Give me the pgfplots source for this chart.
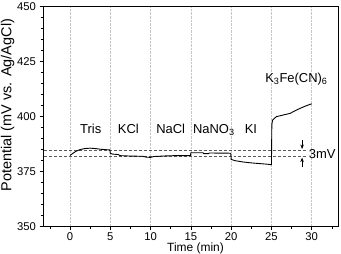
\documentclass[border=0pt]{standalone}
\usepackage{pgfplots}
\pgfplotsset{compat=1.18}
\usepackage{fontspec}
\setmainfont{Liberation Sans}
\usetikzlibrary{arrows.meta}

\begin{document}
\begin{tikzpicture}
\begin{axis}[
  scale only axis,
  width=295bp, height=220bp,
  xmin=-3.35, xmax=33.26,
  ymin=350, ymax=450,
  xtick={0,5,...,30},
  minor xtick={-2.5,2.5,7.5,12.5,17.5,22.5,27.5,32.5},
  ytick={350,375,...,450},
  minor ytick={355,360,365,370,380,385,390,395,405,410,415,420,430,435,440,445},
  xtick pos=bottom, ytick pos=left,
  tick align=outside,
  major tick length=3.5bp, minor tick length=2.5bp,
  tick style={black, line width=0.6pt},
  axis line style={line width=0.7pt},
  xmajorgrids,
  grid style={densely dotted, gray!45, line width=0.5pt},
  /pgf/number format/assume math mode=true,
  ticklabel style={font=\fontsize{11.3}{13}\selectfont},
  xticklabel style={inner sep=1bp, yshift=-1bp},
  clip=false,
]
% reference band (3 mV)
\addplot[gray!70!black, densely dashed, line width=0.5pt] coordinates {(-3.2,384.9) (29.5,384.9)};
\addplot[gray!70!black, densely dashed, line width=0.5pt] coordinates {(-3.2,381.8) (29.5,381.8)};

% potential trace
\addplot[black, line width=0.9pt] coordinates {
(0,382.4) (0.3,383.2) (0.7,384.2) (1.2,385.0) (1.8,385.5) (2.5,385.7)
(3.2,385.5) (3.8,385.2) (4.5,385.0) (4.95,384.9)
(5.0,383.3) (5.3,383.0) (6.0,382.8) (6.2,382.3) (7.5,382.1) (9.0,382.0)
(9.5,381.6) (10.0,381.5) (10.4,381.9) (11.0,382.0) (12.0,382.2) (13.0,382.3)
(14.5,382.3) (14.95,382.3)
(15.0,383.6) (16.5,383.6) (16.6,383.2) (17.2,383.2) (17.3,383.5) (19.95,383.4)
(20.0,380.6) (20.5,380.0) (21.5,379.4) (22.5,379.0) (23.5,378.7) (24.5,378.4)
(24.95,378.2) (25.0,378.2)
(25.05,396.5) (25.15,398.5) (25.6,400.0) (26.5,400.8) (27.3,401.5) (28.0,402.8)
(28.5,403.7) (29.2,404.8) (30.0,405.9)
};

% 3 mV arrows
\addplot[black, line width=0.6pt, -{Stealth[length=4.5bp,width=3.5bp]}] coordinates {(28.8,389.5) (28.8,385.3)};
\addplot[black, line width=0.6pt, -{Stealth[length=4.5bp,width=3.5bp]}] coordinates {(28.8,377.0) (28.8,381.4)};

\node[font=\fontsize{13}{15}\selectfont] at (axis cs:2.58,394.4) {Tris};
\node[font=\fontsize{13}{15}\selectfont] at (axis cs:7.24,394.4) {KCl};
\node[font=\fontsize{13}{15}\selectfont] at (axis cs:12.5,394.4) {NaCl};
\node[font=\fontsize{13}{15}\selectfont] at (axis cs:17.85,393.9) {NaNO\textsubscript{3}};
\node[font=\fontsize{13}{15}\selectfont] at (axis cs:22.45,394.4) {KI};
\node[font=\fontsize{13}{15}\selectfont] at (axis cs:28.1,417.2) {K\textsubscript{3}Fe(CN)\textsubscript{6}};
\node[font=\fontsize{13}{15}\selectfont] at (axis cs:31.3,382.8) {3mV};

\node[font=\fontsize{12}{14}\selectfont, anchor=base, inner sep=0pt] at ([yshift=-25.2bp]rel axis cs:0.517,0) {Time (min)};
\node[font=\fontsize{14.5}{17}\selectfont, rotate=90, anchor=base, inner sep=0pt] at ([xshift=-31.5bp]rel axis cs:0,0.553) {Potential (mV vs. Ag/AgCl)};

\coordinate (O) at (rel axis cs:0,0);
\end{axis}
\pgfresetboundingbox
\path[use as bounding box] ([shift={(-43bp,-27.3bp)}]O) rectangle ([shift={(298bp,226.7bp)}]O);
\end{tikzpicture}
\end{document}
